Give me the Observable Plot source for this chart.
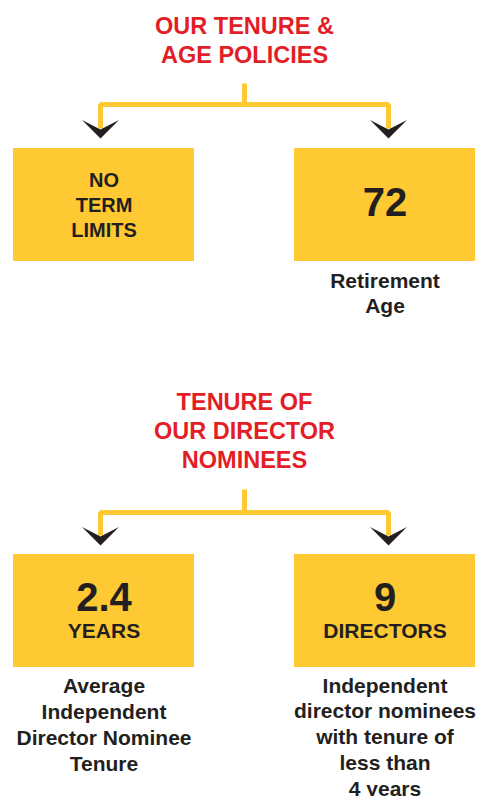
<!DOCTYPE html>
<html>
<head>
<meta charset="utf-8">
<script src="https://cdn.jsdelivr.net/npm/d3@7"></script>
<script src="https://cdn.jsdelivr.net/npm/@observablehq/plot@0.6"></script>
<style>
  html, body { margin: 0; padding: 0; background: #fff; }
  #chart svg { display: block; }
</style>
</head>
<body>
<div id="chart"></div>
<script>
// ---- Data (texts and values from the infographic) ----
const sectionTitles = ["OUR TENURE &\nAGE POLICIES", "TENURE OF\nOUR DIRECTOR\nNOMINEES"];
const policyLabel = "NO\nTERM\nLIMITS";
const retirementAge = "72";
const avgTenure = "2.4";
const avgTenureUnit = "YEARS";
const shortTenureCount = "9";
const shortTenureUnit = "DIRECTORS";
const captions = [
  "Retirement\nAge",
  "Average\nIndependent\nDirector Nominee\nTenure",
  "Independent\ndirector nominees\nwith tenure of\nless than\n4 years"
];

// ---- Layout ----
const W = 479, H = 796;
const RED = "#e31e26", YELLOW = "#fec933", INK = "#231f20";
const FONT = "'Liberation Sans', Arial, Helvetica, sans-serif";
const colL = 103.5, colR = 384.5, midX = 244;
const boxes = [
  {x1: 13, x2: 194, y1: 148, y2: 261},
  {x1: 294, x2: 475, y1: 148, y2: 261},
  {x1: 13, x2: 194, y1: 554, y2: 667},
  {x1: 294, x2: 475, y1: 554, y2: 667}
];
function connector(id, yTop, yBar, yEnd) {
  return [
    {id: id + "s", x: midX, y: yTop}, {id: id + "s", x: midX, y: yBar},
    {id: id + "b", x: 100, y: yEnd}, {id: id + "b", x: 100, y: yBar},
    {id: id + "b", x: 388, y: yBar}, {id: id + "b", x: 388, y: yEnd}
  ];
}
const connectors = [...connector("a", 83, 104, 128), ...connector("b", 489, 512, 535)];
const arrows = [
  {x: 100, y: 138}, {x: 388, y: 138},
  {x: 100, y: 545}, {x: 388, y: 545}
];
const chevron = {
  draw(ctx) {
    ctx.moveTo(-18.5, -18.5);
    ctx.lineTo(0, -9);
    ctx.lineTo(18.5, -18.5);
    ctx.lineTo(0, 0);
    ctx.closePath();
  }
};

const titleText = [
  {x: midX, y: 39, t: sectionTitles[0]},
  {x: midX, y: 429.5, t: sectionTitles[1]}
];
const bigText = [
  {x: colR, y: 203, t: retirementAge},
  {x: colL, y: 598, t: avgTenure},
  {x: colR, y: 598, t: shortTenureCount}
];
const unitText = [
  {x: colL, y: 631, t: avgTenureUnit},
  {x: colR, y: 631, t: shortTenureUnit}
];
const captionText = [
  {x: colR, y: 292, t: captions[0], lh: 1.19},
  {x: colL, y: 723, t: captions[1], lh: 1.23},
  {x: colR, y: 735.5, t: captions[2], lh: 1.23}
];

const chart = Plot.plot({
  width: W,
  height: H,
  margin: 0,
  x: {domain: [0, W], range: [0, W], axis: null},
  y: {domain: [0, H], range: [0, H], axis: null},
  style: {background: "#fff", fontFamily: FONT},
  marks: [
    Plot.line(connectors, {x: "x", y: "y", z: "id", stroke: YELLOW, strokeWidth: 5, strokeLinejoin: "miter", strokeLinecap: "butt", curve: "linear"}),
    Plot.dot(arrows, {x: "x", y: "y", symbol: chevron, fill: INK, stroke: "none", r: 10}),
    Plot.rect(boxes, {x1: "x1", x2: "x2", y1: "y1", y2: "y2", fill: YELLOW}),
    Plot.text(titleText, {x: "x", y: "y", text: "t", fill: RED, fontSize: 23.5, fontWeight: "bold", lineHeight: 1.23, lineAnchor: "middle", textAnchor: "middle"}),
    Plot.text([policyLabel], {x: () => colL, y: () => 203, text: d => d, fill: INK, fontSize: 20, fontWeight: "bold", lineHeight: 1.25, lineAnchor: "middle"}),
    Plot.text(bigText, {x: "x", y: "y", text: "t", fill: INK, fontSize: 40, fontWeight: "bold", lineAnchor: "middle"}),
    Plot.text(unitText, {x: "x", y: "y", text: "t", fill: INK, fontSize: 21, fontWeight: "bold", lineAnchor: "middle"}),
    Plot.text(captionText.slice(0, 1), {x: "x", y: "y", text: "t", fill: INK, fontSize: 21, fontWeight: "bold", lineHeight: 1.19, lineAnchor: "middle"}),
    Plot.text(captionText.slice(1), {x: "x", y: "y", text: "t", fill: INK, fontSize: 21, fontWeight: "bold", lineHeight: 1.23, lineAnchor: "middle"})
  ]
});
document.getElementById("chart").appendChild(chart);
</script>
</body>
</html>
